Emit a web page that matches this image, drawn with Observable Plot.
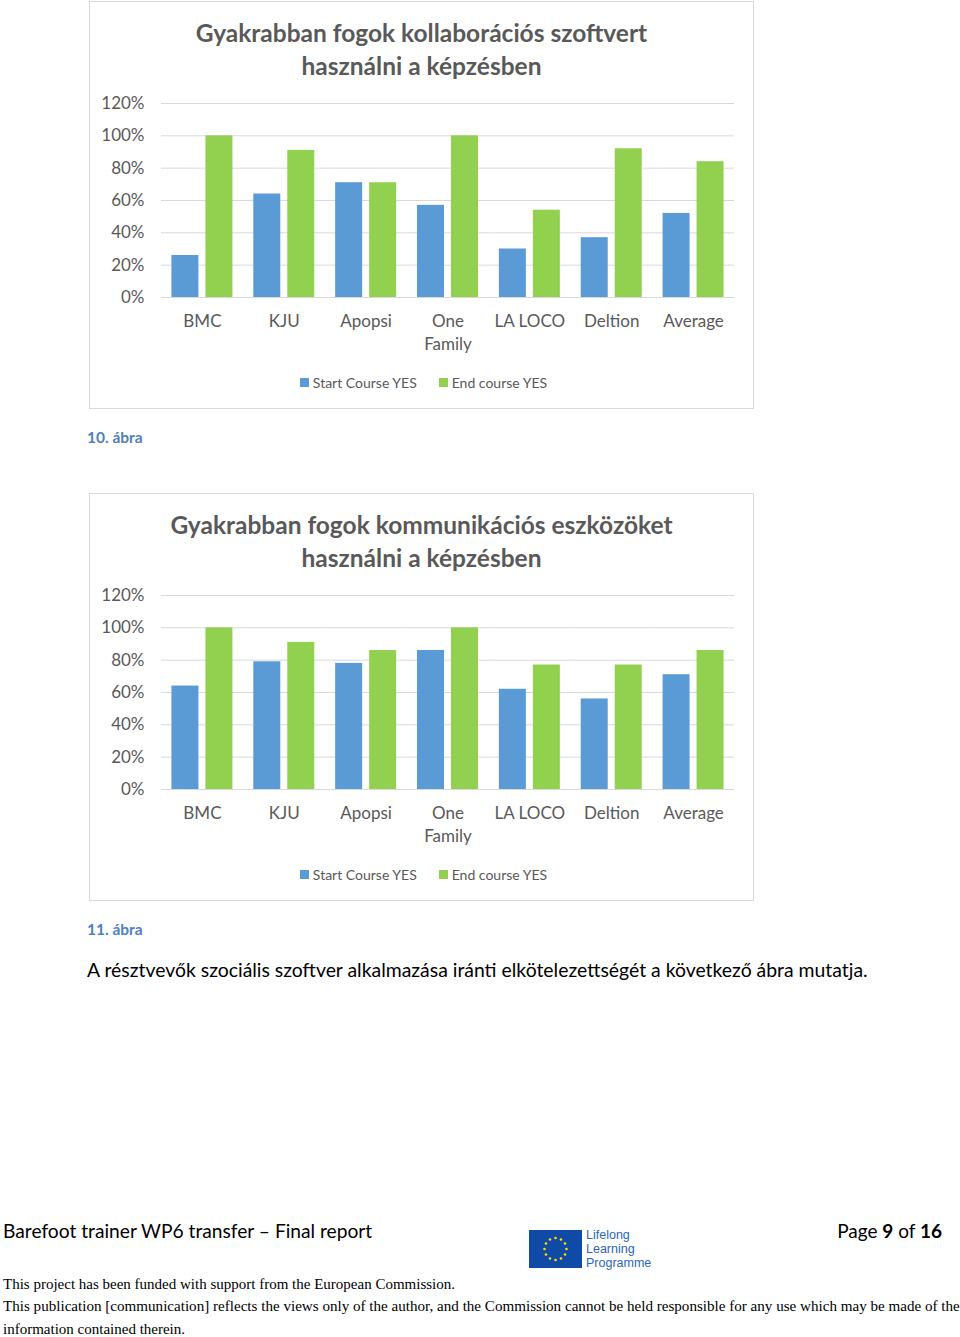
<!DOCTYPE html>
<html><head><meta charset="utf-8">
<script src="https://cdn.jsdelivr.net/npm/d3@7"></script>
<script src="https://cdn.jsdelivr.net/npm/@observablehq/plot@0.6"></script>
<style>
html,body{margin:0;padding:0;background:#fff}
body{width:960px;height:1337px;position:relative;overflow:hidden;font-family:Lato,"Open Sans",sans-serif}
.abs{position:absolute}
.box{position:absolute;left:89px;width:663px;height:406px;border:1px solid #d9d9d9;box-sizing:content-box}
.title{position:absolute;left:89px;width:665px;text-align:center;font-weight:bold;font-size:24.5px;line-height:33px;color:#595959}
.legend{position:absolute;left:91px;width:665px;display:flex;justify-content:center;align-items:center;font-size:14px;color:#595959;height:20px}
.legend span.sw{display:inline-block;width:9px;height:9px;margin-right:4px}
.legend span.item{display:inline-flex;align-items:center;margin:0 11px}
.caption{position:absolute;left:87px;font-weight:bold;font-size:15.5px;color:#4f81bd;line-height:20px}
.serif{position:absolute;left:3px;font-family:"Liberation Serif","Times New Roman",serif;font-size:15px;color:#000;white-space:nowrap;line-height:20px}
</style>
</head><body>
<script>
const categories = ["BMC","KJU","Apopsi","One Family","LA LOCO","Deltion","Average"];
const categoryLabels = ["BMC","KJU","Apopsi","One\nFamily","LA LOCO","Deltion","Average"];
const series = ["Start Course YES","End course YES"];
const seriesColors = ["#5b9bd5","#92d050"];
const yTicks = [0,20,40,60,80,100,120];

const chart1Title = ["Gyakrabban fogok kollaborációs szoftvert","használni a képzésben"];
const chart1Start = [26,64,71,57,30,37,52];
const chart1End   = [100,91,71,100,54,92,84];

const chart2Title = ["Gyakrabban fogok kommunikációs eszközöket","használni a képzésben"];
const chart2Start = [64,79,78,86,62,56,71];
const chart2End   = [100,91,86,100,77,77,86];

const captions = ["10. ábra","11. ábra"];
const bodyText = "A résztvevők szociális szoftver alkalmazása iránti elkötelezettségét a következő ábra mutatja.";

function el(tag, cls, css, html){
  const e = document.createElement(tag);
  if (cls) e.className = cls;
  if (css) e.style.cssText = css;
  if (html != null) e.innerHTML = html;
  document.body.appendChild(e);
  return e;
}

function makePlot(startVals, endVals){
  const rows = categories.flatMap((c,i)=>[
    {cat:c, s:series[0], v:startVals[i]},
    {cat:c, s:series[1], v:endVals[i]}
  ]);
  return Plot.plot({
    width:665, height:270,
    marginLeft:72, marginRight:20, marginTop:13, marginBottom:63,
    style:{fontFamily:"Lato, 'Open Sans', sans-serif", fontSize:"17px", color:"#595959", background:"transparent", overflow:"visible"},
    fx:{domain:categories, padding:0, round:false, label:null},
    x:{domain:series, paddingInner:0.206, paddingOuter:0.307, round:false, axis:null},
    y:{domain:[0,120], label:null},
    color:{domain:series, range:seriesColors},
    marks:[
      Plot.gridY(yTicks,{stroke:"#d9d9d9", strokeOpacity:1, strokeWidth:1}),
      Plot.barY(rows,{fx:"cat", x:"s", y:"v", fill:"s"}),
      Plot.axisY({ticks:yTicks, tickFormat:d=>d+"%", tickSize:0, tickPadding:17, label:null, fill:"#595959", fontSize:17}),
      Plot.axisFx({anchor:"bottom", tickSize:0, tickPadding:13, label:null, tickFormat:d=>categoryLabels[categories.indexOf(d)], lineHeight:1.35, fill:"#595959", fontSize:17})
    ]
  });
}

function section(top, titleLines, startVals, endVals, caption){
  el("div","box",`top:${top+1}px`);
  el("div","title",`top:${top+16}px`, titleLines.join("<br>"));
  const wrap = el("div","abs",`left:89px;top:${top+90}px`);
  wrap.appendChild(makePlot(startVals, endVals));
  const lg = el("div","legend",`top:${top+372}px`);
  series.forEach((s,i)=>{
    const it = document.createElement("span"); it.className="item";
    it.innerHTML = `<span class="sw" style="background:${seriesColors[i]}"></span>${s}`;
    lg.appendChild(it);
  });
  el("div","caption",`top:${top+427}px`, caption);
}

section(0, chart1Title, chart1Start, chart1End, captions[0]);
section(492, chart2Title, chart2Start, chart2End, captions[1]);

el("div","abs",`left:87px;top:958px;font-size:19.4px;color:#000;line-height:24px;white-space:nowrap`, bodyText);

// footer
el("div","abs",`left:3px;top:1219px;font-size:19.2px;color:#000;line-height:24px;white-space:nowrap`, "Barefoot trainer WP6 transfer – Final report");
el("div","abs",`right:18px;top:1219px;font-size:19px;color:#000;line-height:24px;white-space:nowrap`, "Page <b>9</b> of <b>16</b>");

// EU logo
const flag = el("div","abs",`left:529px;top:1230px;width:53px;height:38px`);
const stars = Array.from({length:12},(_,k)=>{
  const a = k*Math.PI/6;
  return `<circle cx="${26.5+11*Math.cos(a)}" cy="${19+11*Math.sin(a)}" r="1.3" fill="#ffdd00"/>`;
}).join("");
flag.innerHTML = `<svg width="53" height="38"><rect width="53" height="38" fill="#0f4aa6"/>${stars}</svg>`;
el("div","abs",`left:586px;top:1228px;font-size:12.5px;line-height:14px;color:#2a67b8;font-family:'Liberation Sans',Arial,sans-serif`, "Lifelong<br>Learning<br>Programme");

el("div","serif",`top:1274px`, "This project has been funded with support from the European Commission.");
el("div","serif",`top:1296px;font-size:15.1px`, "This publication [communication] reflects the views only of the author, and the Commission cannot be held responsible for any use which may be made of the");
el("div","serif",`top:1319px`, "information contained therein.");
</script>
</body></html>
